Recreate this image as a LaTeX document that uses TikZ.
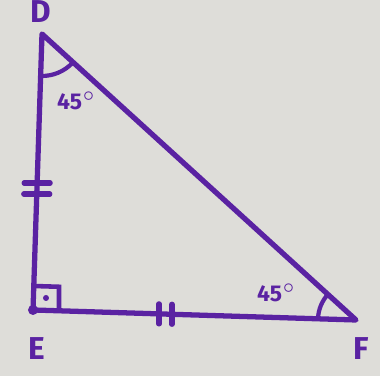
\documentclass[tikz,border=0pt]{standalone}
\usepackage{fontspec}
\setsansfont{Fira Sans}
\usetikzlibrary{angles,calc}
\definecolor{ink}{HTML}{5A22A2}
\definecolor{paper}{HTML}{DEDDD9}
\tikzset{
  side/.style={draw=ink,line width=1.5pt,line cap=round,line join=round},
  tick/.style={draw=ink,line width=1.5pt,line cap=round},
  vlabel/.style={text=ink,font=\sffamily\bfseries\fontsize{9}{9}\selectfont,inner sep=0pt},
  alabel/.style={text=ink,font=\sffamily\bfseries\fontsize{6.5}{6.5}\selectfont,inner sep=0pt}
}
\begin{document}
\begin{tikzpicture}
\fill[paper] (0,0) rectangle (3.8,3.76);
\useasboundingbox (0,0) rectangle (3.8,3.76);

\coordinate (D) at (0.42,3.42);
\coordinate (E) at (0.33,0.66);
\coordinate (F) at (3.56,0.56);

\node (labD) at (0.41,3.64) [vlabel] {D};
\node (labE) at (0.37,0.27) [vlabel] {E};
\node (labF) at (3.61,0.27) [vlabel] {F};
\node (angD) at (0.77,2.75) [alabel] {45$^\circ$};
\node (angF) at (2.77,0.83) [alabel] {45$^\circ$};

\draw [side] (D) -- (E) -- (F) -- cycle;

% angle marks
\pic [draw=ink,line width=1.2pt,angle radius=0.42cm] {angle=E--D--F};
\pic [draw=ink,line width=1.2pt,angle radius=0.38cm] {angle=D--F--E};
\draw [ink,line width=1.3pt] ($(E)!0.26cm!(F)$) -- ++(0,0.24) -- ($(E)!0.24cm!(D)$);
\fill [ink] ($(E)+(0.13,0.12)$) circle (0.03);
\fill [ink] (E) circle (0.05);

% equal sides
\draw [tick] ($(D)!0.54!(E)+(-0.13,0)$) -- ++(0.26,0);
\draw [tick] ($(D)!0.58!(E)+(-0.13,0)$) -- ++(0.26,0);
\draw [tick] ($(E)!0.39!(F)+(0,-0.1)$) -- ++(0,0.2);
\draw [tick] ($(E)!0.43!(F)+(0,-0.1)$) -- ++(0,0.2);
\end{tikzpicture}
\end{document}
